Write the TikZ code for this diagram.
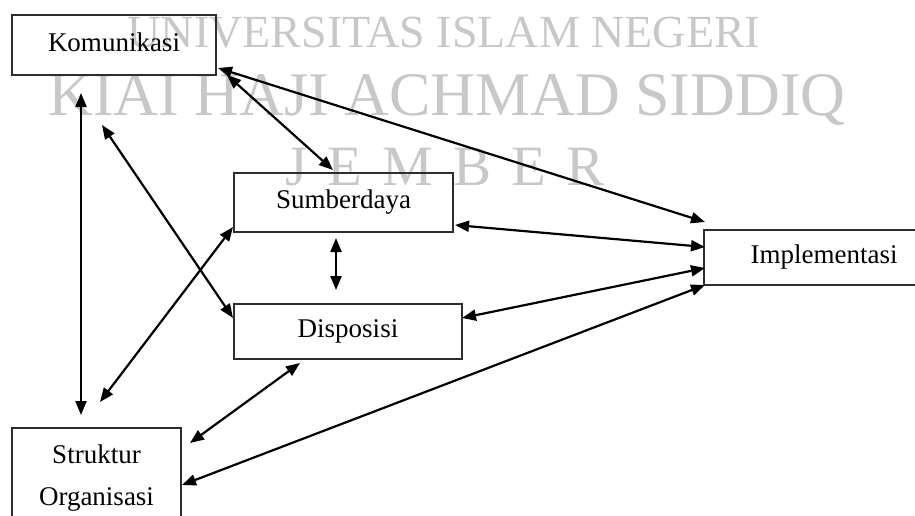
\documentclass[tikz,border=0pt]{standalone}
\usepackage{fontspec}
\setmainfont{Liberation Serif}
\usetikzlibrary{arrows.meta}
\definecolor{boxgray}{RGB}{45,45,45}
\definecolor{wmgray}{RGB}{200,200,200}
\begin{document}
\begin{tikzpicture}[x=1pt,y=-1pt,
  box/.style={draw=boxgray,line width=2pt,inner sep=0pt,font=\fontsize{27}{42}\selectfont},
  onel/.style={text height=18pt,text depth=6pt},
  link/.style={{Triangle[length=14pt,width=11pt]}-{Triangle[length=14pt,width=11pt]},line width=2.2pt,draw=black},
  wm/.style={text=wmgray,inner sep=0pt,anchor=base}]
\useasboundingbox (0,0) rectangle (915,515);
\clip (0,0) rectangle (915,515);
% watermark
\node[wm,font=\fontsize{46}{46}\selectfont] (w1) at (444,47) {UNIVERSITAS ISLAM NEGERI};
\node[wm,font=\fontsize{62}{62}\selectfont] (w2) at (447,115) {KIAI HAJI ACHMAD SIDDIQ};
\node[wm,font=\fontsize{57}{57}\selectfont] (w3) at (445,185) {J\hspace{20pt}E\hspace{20pt}M\hspace{20pt}B\hspace{20pt}E\hspace{20pt}R};
% boxes
\node[box,onel,minimum width=204pt,minimum height=60pt] (k) at (114,45) {Komunikasi};
\node[box,onel,minimum width=219pt,minimum height=59pt] (s) at (343.5,202.5) {Sumberdaya};
\node[box,onel,minimum width=228pt,minimum height=55pt] (d) at (348,331.5) {Disposisi};
\node[box,onel,minimum width=240pt,minimum height=55pt] (imp) at (824,257.5) {Implementasi};
\node[box,align=center,minimum width=169pt,minimum height=100pt] (st) at (96.5,478) {Struktur\\Organisasi};
% connector ends
\coordinate (kA) at (81,93);   \coordinate (stA) at (81,415);
\coordinate (kB) at (102,125); \coordinate (dB) at (233,318);
\coordinate (sC) at (233,227); \coordinate (stC) at (100,402);
\coordinate (kD) at (227,75);  \coordinate (sD) at (333,170);
\coordinate (kE) at (218,68);  \coordinate (impE) at (705,222);
\coordinate (sF) at (455,225); \coordinate (impF) at (705,247);
\coordinate (sG) at (336,238); \coordinate (dG) at (336,290);
\coordinate (dH) at (462,318); \coordinate (impH) at (705,268);
\coordinate (dI) at (300,363); \coordinate (stI) at (190,443);
\coordinate (stJ) at (182,485); \coordinate (impJ) at (705,285);
% connectors
\draw[link] (kA) -- (stA);
\draw[link] (kB) -- (dB);
\draw[link] (sC) -- (stC);
\draw[link] (kD) -- (sD);
\draw[link] (kE) -- (impE);
\draw[link] (sF) -- (impF);
\draw[link] (sG) -- (dG);
\draw[link] (dH) -- (impH);
\draw[link] (dI) -- (stI);
\draw[link] (stJ) -- (impJ);
\end{tikzpicture}
\end{document}
